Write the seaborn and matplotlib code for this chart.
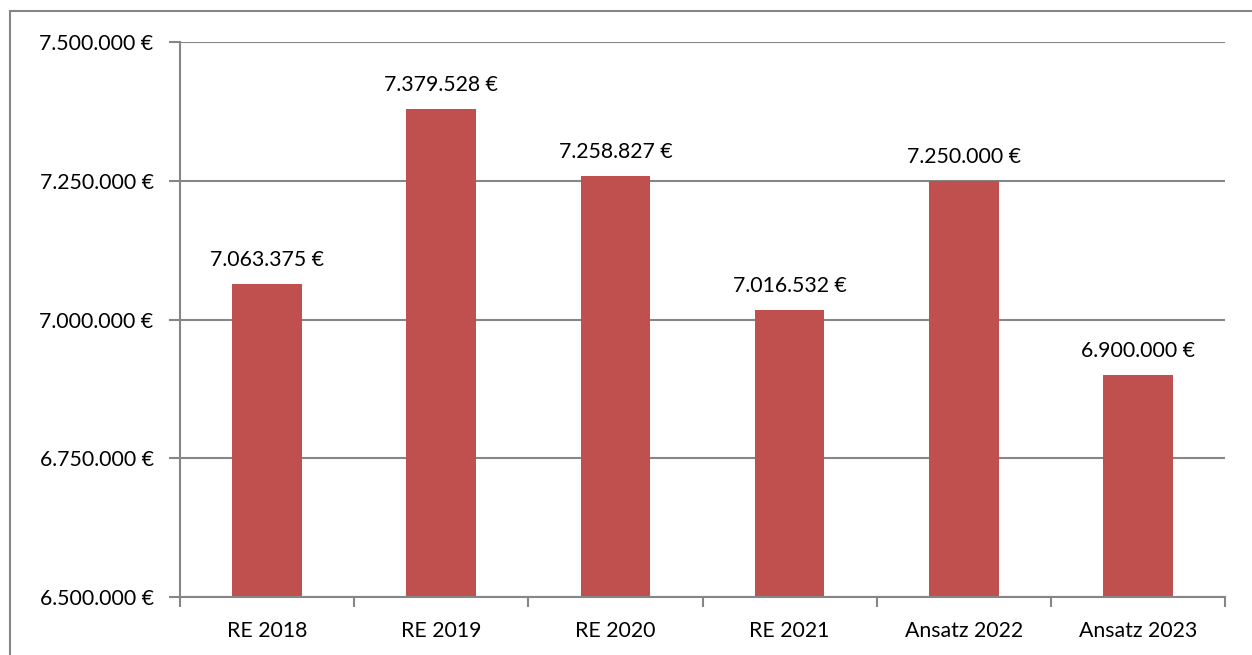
import matplotlib
matplotlib.use("Agg")
import matplotlib.pyplot as plt
import seaborn as sns
import pandas as pd
import numpy as np
from matplotlib.patches import Rectangle

categories = ["RE 2018", "RE 2019", "RE 2020", "RE 2021", "Ansatz 2022", "Ansatz 2023"]
values = [7063375, 7379528, 7258827, 7016532, 7250000, 6900000]
yticks = [6500000, 6750000, 7000000, 7250000, 7500000]

def fmt(v):
    return f"{v:,.0f}".replace(",", ".") + " €"

sns.set_theme(style="white")
plt.rcParams['font.family'] = ['Lato', 'DejaVu Sans']

FS = 15.3
W, H = 1252, 655
fig = plt.figure(figsize=(W / 100, H / 100), dpi=100)
ax = fig.add_axes([180 / W, 1 - 597 / H, (1225 - 180) / W, (597 - 42) / H])

df = pd.DataFrame({"cat": categories, "val": values})
sns.barplot(data=df, x="cat", y="val", color="#C0504D", saturation=1, width=0.4, ax=ax)
for p in ax.patches:
    p.set_edgecolor("none")

ax.set_ylim(6500000, 7500000)
ax.set_xlim(-0.5, len(categories) - 0.5)
ax.set_yticks(yticks)
ax.set_yticklabels([fmt(v) for v in yticks], fontsize=FS, color="black")
ax.set_xticks(range(len(categories)))
ax.set_xticklabels(categories, fontsize=FS, color="black")
ax.set_xlabel("")
ax.set_ylabel("")
ax.set_xticks(np.arange(-0.5, len(categories), 1), minor=True)

ax.yaxis.grid(True, color="#868686", linewidth=1.5)
ax.set_axisbelow(True)
for s in ["top", "right"]:
    ax.spines[s].set_visible(False)
for s in ["left", "bottom"]:
    ax.spines[s].set_color("#868686")
    ax.spines[s].set_linewidth(1.5)

ax.tick_params(axis="y", which="major", length=8, width=1.5, color="#868686", pad=11, left=True)
ax.tick_params(axis="x", which="major", length=0, pad=17)
ax.tick_params(axis="x", which="minor", length=7, width=1.5, color="#868686", bottom=True)

for i, v in enumerate(values):
    ax.annotate(fmt(v), (i, v), xytext=(0, 10), textcoords="offset points",
                ha="center", va="bottom", fontsize=FS, color="black")

fig.patches.append(Rectangle((10 / W, -0.1), 1.2, 1 - 11 / H + 0.1, transform=fig.transFigure,
                             fill=False, edgecolor="#868686", linewidth=1.5))

fig.savefig("out.png", dpi=100)
